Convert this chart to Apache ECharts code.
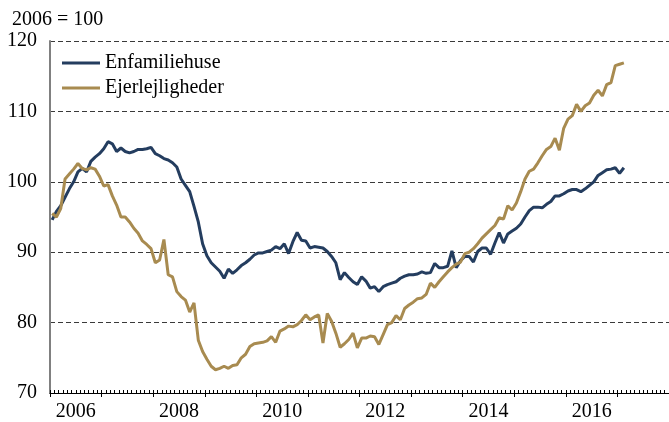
<!DOCTYPE html>
<html>
<head>
<meta charset="utf-8">
<script src="https://cdn.jsdelivr.net/npm/echarts@6/dist/echarts.min.js"></script>
<style>
  html, body { margin: 0; padding: 0; background: #fff; }
  #chart { width: 669px; height: 422px; }
</style>
</head>
<body>
<div id="chart"></div>
<script>
// monthly index, 2006 = 100, first value is Jan 2006
var startYear = 2006;
var yearLabels = ['2006', '2008', '2010', '2012', '2014', '2016'];
var yTicks = [70, 80, 90, 100, 110, 120];

var enfamiliehuse = [
  94.6, 95.8, 96.6, 97.8, 99.0, 100.0, 101.4, 101.9, 101.4, 102.9, 103.5, 104.0,
  104.7, 105.7, 105.4, 104.3, 104.8, 104.3, 104.1, 104.3, 104.6, 104.6, 104.7, 104.9,
  104.0, 103.7, 103.3, 103.1, 102.7, 102.1, 100.4, 99.5, 98.6, 96.5, 94.3, 91.2,
  89.5, 88.5, 87.9, 87.3, 86.3, 87.6, 87.0, 87.5, 88.1, 88.5, 89.0, 89.6,
  89.9, 89.9, 90.1, 90.3, 90.8, 90.5, 91.2, 89.8, 91.5, 92.8, 91.7, 91.6,
  90.6, 90.8, 90.7, 90.6, 90.1, 89.4, 88.5, 86.1, 87.1, 86.4, 85.8, 85.4,
  86.5, 85.9, 84.9, 85.1, 84.4, 85.1, 85.4, 85.6, 85.8, 86.3, 86.6, 86.8,
  86.8, 86.9, 87.2, 87.0, 87.1, 88.4, 87.8, 87.8, 88.0, 90.2, 87.8, 88.8,
  89.4, 89.4, 88.6, 90.1, 90.6, 90.6, 89.7, 91.3, 92.8, 91.3, 92.6, 93.0,
  93.4, 94.0, 95.0, 95.9, 96.4, 96.4, 96.3, 96.8, 97.2, 98.0, 98.0, 98.3,
  98.7, 98.9, 98.9, 98.6, 99.0, 99.5, 100.0, 100.9, 101.3, 101.7, 101.8, 102.0,
  101.2, 102.0
];

var ejerlejligheder = [
  95.5, 95.0, 96.2, 100.4, 101.1, 101.8, 102.6, 101.9, 101.7, 102.0, 101.8, 100.8,
  99.4, 99.6, 98.0, 96.7, 95.0, 95.0, 94.3, 93.4, 92.7, 91.6, 91.1, 90.5,
  88.5, 88.9, 91.8, 86.8, 86.5, 84.4, 83.7, 83.2, 81.5, 82.8, 77.5, 75.9,
  74.8, 73.8, 73.3, 73.5, 73.8, 73.5, 73.9, 74.0, 75.0, 75.5, 76.6, 77.0,
  77.1, 77.2, 77.4, 78.0, 77.2, 78.8, 79.1, 79.5, 79.4, 79.7, 80.3, 81.1,
  80.4, 80.8, 81.1, 77.1, 81.3, 80.2, 78.5, 76.5, 77.0, 77.6, 78.5, 76.4,
  77.8, 77.8, 78.1, 78.0, 76.9, 78.3, 79.7, 80.0, 81.0, 80.4, 82.0, 82.5,
  82.9, 83.4, 83.5, 84.0, 85.6, 85.0, 85.8, 86.5, 87.2, 87.8, 88.3, 88.6,
  89.8, 90.0, 90.5, 91.2, 92.0, 92.6, 93.2, 93.8, 94.9, 94.7, 96.6, 96.0,
  97.0, 98.6, 100.4, 101.5, 101.8, 102.7, 103.7, 104.6, 105.0, 106.2, 104.5, 107.6,
  108.9, 109.4, 111.0, 110.0, 110.8, 111.2, 112.3, 113.0, 112.2, 113.8, 114.1, 116.5,
  116.7, 116.9
];

var serif = '"Liberation Serif", "Times New Roman", serif';
var navy = '#243d5f';
var gold = '#a88b50';

// month i is drawn in the middle of its month
function toPoints(arr) {
  return arr.map(function (v, i) { return [i + 0.5, v]; });
}

var option = {
  animation: false,
  title: {
    text: '2006 = 100',
    left: 7,
    top: 5,
    textStyle: { fontFamily: serif, fontSize: 20, fontWeight: 'normal', color: '#000' }
  },
  legend: {
    orient: 'vertical',
    left: 62,
    top: 53,
    padding: 0,
    icon: 'rect',
    itemWidth: 38,
    itemHeight: 3,
    itemGap: 5,
    textStyle: { fontFamily: serif, fontSize: 20, color: '#000' },
    data: ['Enfamiliehuse', 'Ejerlejligheder']
  },
  grid: { left: 50, right: 0, top: 41, bottom: 29, containLabel: false },
  xAxis: [{
    type: 'value',
    min: 0,
    max: 144,
    interval: 12,
    axisLine: { lineStyle: { color: '#000', width: 1 } },
    axisTick: { inside: true, length: 3, lineStyle: { color: '#000' } },
    minorTick: { show: true, splitNumber: 12, length: 3, lineStyle: { color: '#000' } },
    splitLine: { show: false },
    axisLabel: {
      customValues: yearLabels.map(function (y, k) { return k * 24 + 6; }),
      formatter: function (v) { return String(startYear + (v - 6) / 12); },
      fontFamily: serif,
      fontSize: 20,
      color: '#000',
      margin: 9
    }
  }, {
    type: 'value',
    min: 0,
    max: 144,
    interval: 12,
    position: 'bottom',
    axisLine: { show: false },
    axisTick: { inside: false, length: 4, lineStyle: { color: '#000' } },
    axisLabel: { show: false },
    splitLine: { show: false }
  }],
  yAxis: {
    type: 'value',
    min: yTicks[0],
    max: yTicks[yTicks.length - 1],
    interval: 10,
    axisLine: { show: true, lineStyle: { color: '#808080', width: 2 } },
    axisTick: { show: false },
    axisLabel: { fontFamily: serif, fontSize: 20, color: '#000', margin: 13 },
    splitLine: { lineStyle: { color: '#3a3a3a', type: [5, 3], width: 1 } }
  },
  series: [{
    name: 'Enfamiliehuse',
    type: 'line',
    symbol: 'none',
    lineStyle: { color: navy, width: 3 },
    itemStyle: { color: navy },
    data: toPoints(enfamiliehuse)
  }, {
    name: 'Ejerlejligheder',
    type: 'line',
    symbol: 'none',
    lineStyle: { color: gold, width: 3 },
    itemStyle: { color: gold },
    data: toPoints(ejerlejligheder)
  }]
};

var myChart = echarts.init(document.getElementById('chart'));
myChart.setOption(option);
</script>
</body>
</html>
